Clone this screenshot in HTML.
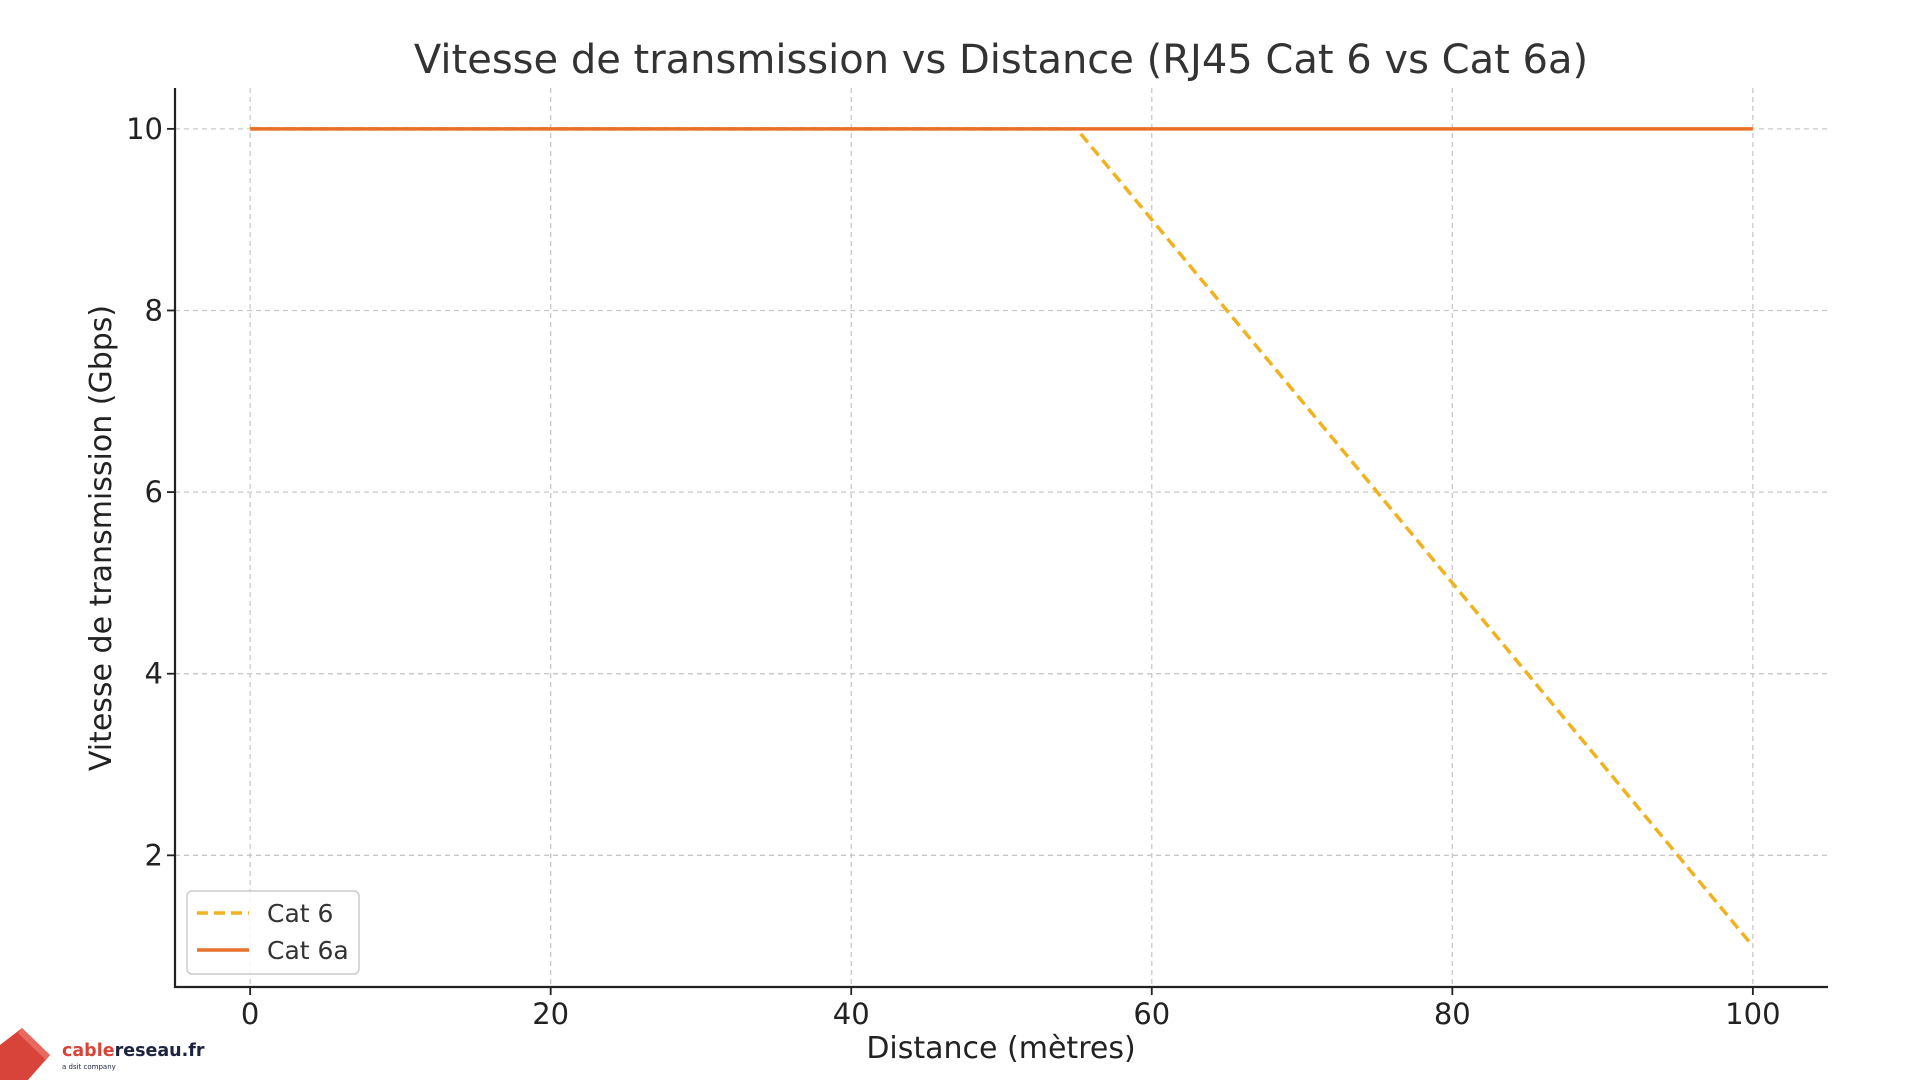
<!DOCTYPE html>
<html><head><meta charset="utf-8"><style>
html,body{margin:0;padding:0;background:#fff;width:1920px;height:1080px;overflow:hidden}
svg text{font-family:"DejaVu Sans","Liberation Sans",sans-serif}
</style></head><body>
<svg id="chart" width="1920" height="1080" viewBox="0 0 1920 1080" xmlns="http://www.w3.org/2000/svg">
<text x="1001" y="73" font-size="40" fill="#333" text-anchor="middle">Vitesse de transmission vs Distance (RJ45 Cat 6 vs Cat 6a)</text>
<g id="grid"></g>
<g id="axes"></g>
<g id="series"></g>
<text x="1001" y="1058" font-size="30" fill="#222" text-anchor="middle">Distance (mètres)</text>
<text transform="translate(111,538) rotate(-90)" font-size="30" fill="#222" text-anchor="middle">Vitesse de transmission (Gbps)</text>
<g>
<rect x="187" y="891" width="172" height="83" rx="5" fill="#fff" fill-opacity="0.85" stroke="#ccc" stroke-width="1.5"/>
<g>
<line x1="197" y1="913" x2="249" y2="913" stroke="#f0b21e" stroke-width="3.5" stroke-dasharray="11,6"/>
<text x="267" y="922" font-size="25" fill="#333">Cat 6</text></g>
<g>
<line x1="197" y1="950" x2="249" y2="950" stroke="#e8702a" stroke-width="3.5"/>
<text x="267" y="959" font-size="25" fill="#333">Cat 6a</text></g>
</g>
<g>
<polygon points="0,1045 22,1028 50,1055 28,1080 0,1080" fill="#d9443a"/>
<polygon points="22,1028 50,1055 46,1060 18,1033" fill="#e86a5f"/>
<text x="62" y="1056" font-size="17.5" font-weight="bold" fill="#d9443a">cable<tspan fill="#1c2340">reseau.fr</tspan></text>
<text x="62" y="1069" font-size="7" fill="#1c2340">a dsit company</text>
</g>
</svg>
<script>
const xTicks=[0,20,40,60,80,100];
const yTicks=[2,4,6,8,10];
const cat6X=[0,55,100];
const cat6Y=[10,10,1];
const cat6aX=[0,100];
const cat6aY=[10,10];
const NS="http://www.w3.org/2000/svg";
const L=175,R=1828,T=88,B=987;
const xMin=-5,xMax=105,yMin=0.55,yMax=10.45;
const sx=v=>L+(v-xMin)/(xMax-xMin)*(R-L);
const sy=v=>B-(v-yMin)/(yMax-yMin)*(B-T);
function mk(tag,attrs,parent){const e=document.createElementNS(NS,tag);for(const k in attrs)e.setAttribute(k,attrs[k]);parent.appendChild(e);return e;}
const grid=document.getElementById('grid'),axes=document.getElementById('axes'),series=document.getElementById('series');
xTicks.forEach(v=>{
 const g=mk('line',{x1:sx(v),x2:sx(v),y1:T,y2:B,stroke:'#c8c8c8','stroke-width':1.3,'stroke-dasharray':'5,4'},grid);
 
 
 const t=mk('line',{x1:sx(v),x2:sx(v),y1:B,y2:B+8,stroke:'#222','stroke-width':1.8},axes);
 
 
 const l=mk('text',{x:sx(v),y:B+37,'font-size':29,fill:'#222','text-anchor':'middle'},axes);
 l.textContent=v;
 
 
});
yTicks.forEach(v=>{
 const g=mk('line',{x1:L,x2:R,y1:sy(v),y2:sy(v),stroke:'#c8c8c8','stroke-width':1.3,'stroke-dasharray':'5,4'},grid);
 
 
 const t=mk('line',{x1:L-8,x2:L,y1:sy(v),y2:sy(v),stroke:'#222','stroke-width':1.8},axes);
 
 
 const l=mk('text',{x:L-12,y:sy(v)+10,'font-size':29,fill:'#222','text-anchor':'end'},axes);
 l.textContent=v;
 
 
});
const ya=mk('line',{x1:L,x2:L,y1:T,y2:B+1,stroke:'#222','stroke-width':2.2},axes);


const xa=mk('line',{x1:L-1,x2:R,y1:B,y2:B,stroke:'#222','stroke-width':2.2},axes);


const p6=mk('polyline',{points:cat6X.map((x,i)=>sx(x)+','+sy(cat6Y[i])).join(' '),fill:'none',stroke:'#f0b21e','stroke-width':3.5,'stroke-dasharray':'11,6'},series);


const p6a=mk('polyline',{points:cat6aX.map((x,i)=>sx(x)+','+sy(cat6aY[i])).join(' '),fill:'none',stroke:'#e8702a','stroke-width':3.5},series);


</script>
</body></html>
